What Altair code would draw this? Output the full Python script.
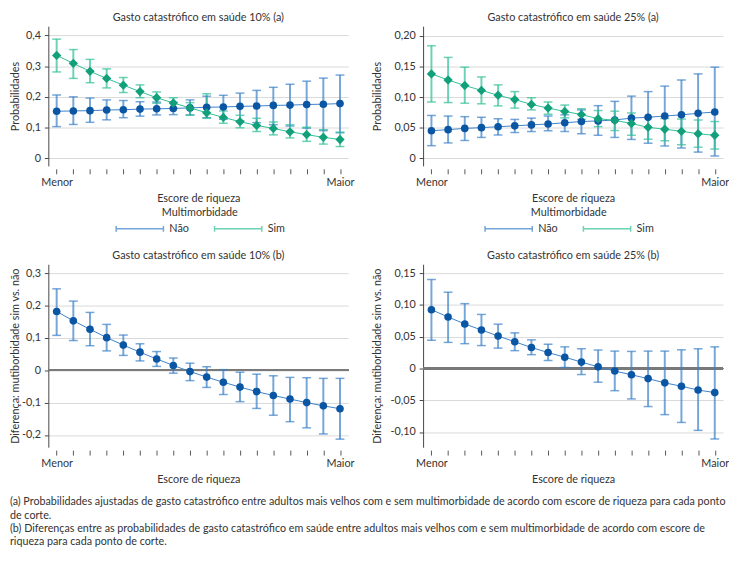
import altair as alt
import pandas as pd

idx = list(range(1, 19))

# (a) 10%
a10_nao = [0.153, 0.154, 0.155, 0.157, 0.158, 0.160, 0.161, 0.162, 0.164, 0.166, 0.167, 0.169, 0.170, 0.172, 0.173, 0.175, 0.176, 0.178]
a10_nao_lo = [0.103, 0.110, 0.117, 0.125, 0.132, 0.137, 0.141, 0.142, 0.141, 0.132, 0.127, 0.122, 0.116, 0.109, 0.105, 0.098, 0.090, 0.083]
a10_nao_hi = [0.206, 0.200, 0.196, 0.190, 0.188, 0.184, 0.183, 0.182, 0.190, 0.202, 0.205, 0.212, 0.221, 0.231, 0.241, 0.251, 0.261, 0.271]
a10_sim = [0.335, 0.309, 0.283, 0.260, 0.238, 0.217, 0.197, 0.180, 0.164, 0.148, 0.133, 0.119, 0.107, 0.097, 0.086, 0.077, 0.068, 0.061]
a10_sim_lo = [0.281, 0.260, 0.246, 0.229, 0.214, 0.197, 0.179, 0.163, 0.140, 0.130, 0.114, 0.099, 0.087, 0.076, 0.066, 0.055, 0.046, 0.038]
a10_sim_hi = [0.388, 0.354, 0.322, 0.291, 0.263, 0.239, 0.216, 0.197, 0.181, 0.210, 0.154, 0.140, 0.130, 0.118, 0.109, 0.101, 0.093, 0.085]

# (a) 25%
a25_nao = [0.045, 0.0467, 0.0488, 0.050, 0.0515, 0.053, 0.0545, 0.056, 0.058, 0.060, 0.061, 0.0625, 0.0656, 0.067, 0.069, 0.071, 0.0735, 0.0756]
a25_nao_lo = [0.0205, 0.025, 0.029, 0.034, 0.038, 0.042, 0.0436, 0.045, 0.0437, 0.040, 0.0375, 0.034, 0.0307, 0.0245, 0.020, 0.0167, 0.010, 0.0036]
a25_nao_hi = [0.070, 0.069, 0.068, 0.067, 0.0646, 0.0635, 0.0656, 0.069, 0.071, 0.079, 0.086, 0.093, 0.1016, 0.109, 0.118, 0.128, 0.138, 0.149]
a25_sim = [0.138, 0.128, 0.119, 0.111, 0.103, 0.096, 0.088, 0.082, 0.0766, 0.0714, 0.0646, 0.062, 0.0568, 0.0505, 0.0474, 0.044, 0.040, 0.0375]
a25_sim_lo = [0.092, 0.091, 0.090, 0.089, 0.0856, 0.082, 0.079, 0.072, 0.066, 0.0635, 0.0516, 0.0453, 0.0375, 0.031, 0.0286, 0.022, 0.018, 0.015]
a25_sim_hi = [0.184, 0.165, 0.149, 0.133, 0.120, 0.109, 0.099, 0.092, 0.087, 0.081, 0.078, 0.077, 0.074, 0.067, 0.065, 0.064, 0.0625, 0.060]

# (b) 10%
b10_d = [0.182, 0.153, 0.127, 0.101, 0.078, 0.056, 0.035, 0.015, -0.004, -0.021, -0.037, -0.052, -0.066, -0.078, -0.089, -0.100, -0.110, -0.119]
b10_lo = [0.108, 0.092, 0.076, 0.060, 0.046, 0.029, 0.012, -0.009, -0.032, -0.053, -0.075, -0.097, -0.118, -0.139, -0.159, -0.178, -0.197, -0.213]
b10_hi = [0.252, 0.214, 0.179, 0.142, 0.109, 0.082, 0.058, 0.038, 0.022, 0.011, 0.002, -0.006, -0.012, -0.017, -0.022, -0.023, -0.025, -0.025]

# (b) 25%
b25_d = [0.0924, 0.081, 0.070, 0.0606, 0.051, 0.042, 0.033, 0.025, 0.0177, 0.010, 0.0025, -0.004, -0.010, -0.016, -0.0227, -0.028, -0.034, -0.038]
b25_lo = [0.0444, 0.041, 0.039, 0.036, 0.032, 0.028, 0.0217, 0.0126, 0.0015, -0.0096, -0.0217, -0.035, -0.048, -0.060, -0.0727, -0.085, -0.0975, -0.111]
b25_hi = [0.140, 0.120, 0.102, 0.085, 0.0697, 0.056, 0.045, 0.038, 0.034, 0.031, 0.029, 0.0273, 0.0268, 0.0273, 0.0273, 0.0293, 0.031, 0.034]

groups = ["Não", "Sim"]
titles = ["Gasto catastrófico em saúde 10% (a)", "Gasto catastrófico em saúde 25% (a)",
          "Gasto catastrófico em saúde 10% (b)", "Gasto catastrófico em saúde 25% (b)"]
notes = [
    "(a) Probabilidades ajustadas de gasto catastrófico entre adultos mais velhos com e sem multimorbidade de acordo com escore de riqueza para cada ponto",
    "de corte.",
    "(b) Diferenças entre as probabilidades de gasto catastrófico em saúde entre adultos mais velhos com e sem multimorbidade de acordo com escore de",
    "riqueza para cada ponto de corte.",
]

FONT = "Lato"
CI = ["#3b80c8", "#2fbf95"]
PT = ["#0b56a3", "#12a07b"]
SHAPES = ["circle", "diamond"]
SIZES = [60, 90]
TOP_W, TOP_H, BOT_W, BOT_H = 305, 142, 305, 186
LEG_PATH = "M-1,-0.5L-1,0.5M-1,0L7,0M7,-0.5L7,0.5"


def lab_expr(dec):
    return ("datum.value == 0 ? '0' : replace(replace(format(datum.value, '.%df'), '.', ','), '\u2212', '-')" % dec)


xscale = alt.Scale(domain=[0.5, 18.5], nice=False, zero=False)
xaxis = alt.Axis(values=idx, labelExpr="datum.value == 1 ? 'Menor' : (datum.value == 18 ? 'Maior' : '')",
                 title="Escore de riqueza", grid=False, domain=False, tickSize=5, tickColor="#555",
                 offset=3, labelPadding=3, titlePadding=5, labelOverlap=False, labelFlush=False)


def yaxis(vals, dec, title, ext, tpad):
    return alt.Axis(values=vals, labelExpr=lab_expr(dec), title=title, minExtent=ext, maxExtent=ext,
                    titlePadding=tpad, grid=True, gridColor="#d9d9d9", domainColor="#444",
                    tickColor="#444", tickSize=4, labelPadding=4)


def top_panel(title, nao, nao_lo, nao_hi, sim, sim_lo, sim_hi, ydom, yvals, dec, ext, tpad, legx):
    df = pd.DataFrame({"x": idx * 2, "grp": [groups[0]] * 18 + [groups[1]] * 18,
                       "v": nao + sim, "lo": nao_lo + sim_lo, "hi": nao_hi + sim_hi})
    ys = alt.Scale(domain=ydom, nice=False, zero=False)
    ya = yaxis(yvals, dec, "Probabilidades", ext, tpad)
    X = alt.X("x:Q", scale=xscale, axis=xaxis)
    col_legend = alt.Legend(title="Multimorbidade", orient="none", legendX=legx, legendY=TOP_H + 42,
                            direction="horizontal", symbolType=LEG_PATH, symbolSize=144,
                            symbolStrokeWidth=1.5, labelOffset=41, columnPadding=23,
                            titleAnchor="middle", titlePadding=4, padding=0, titleFontWeight="normal",
                            titleFontSize=11, labelFontSize=11, titleFont=FONT, labelFont=FONT,
                            titleColor="#333", labelColor="#333")
    C = alt.Color("grp:N", scale=alt.Scale(domain=groups, range=CI), legend=col_legend)
    base = alt.Chart(df)
    rules = base.mark_rule(strokeWidth=2, opacity=0.7).encode(
        x=X, y=alt.Y("lo:Q", scale=ys, axis=ya), y2="hi:Q", color=C)
    cap_lo = base.mark_tick(orient="horizontal", size=9, thickness=1.5).encode(
        x=X, y=alt.Y("lo:Q", scale=ys, axis=ya), color=C)
    cap_hi = base.mark_tick(orient="horizontal", size=9, thickness=1.5).encode(
        x=X, y=alt.Y("hi:Q", scale=ys, axis=ya), color=C)
    line = base.mark_line(strokeWidth=1).encode(
        x=X, y=alt.Y("v:Q", scale=ys, axis=ya), color=C, detail="grp:N")
    layers = [rules, cap_lo, cap_hi, line]
    for g, col, shp, sz in zip(groups, PT, SHAPES, SIZES):
        layers.append(base.transform_filter(alt.datum.grp == g).mark_point(
            filled=True, opacity=1, strokeWidth=0, fill=col, shape=shp, size=sz).encode(
            x=X, y=alt.Y("v:Q", scale=ys, axis=ya)))
    return alt.layer(*layers).properties(
        width=TOP_W, height=TOP_H,
        title=alt.TitleParams(title, frame="group", anchor="middle", offset=3, fontSize=11,
                              font=FONT, fontWeight="normal", color="#333"))


def bot_panel(title, d, lo, hi, ydom, yvals, dec, ext, tpad):
    df = pd.DataFrame({"x": idx, "v": d, "lo": lo, "hi": hi})
    ys = alt.Scale(domain=ydom, nice=False, zero=False)
    ya = yaxis(yvals, dec, "Diferença: mutiborbidade sim vs. não", ext, tpad)
    X = alt.X("x:Q", scale=xscale, axis=xaxis)
    base = alt.Chart(df)
    zero = base.mark_rule(color="#7a7a7a", strokeWidth=1.5).encode(
        y=alt.Y(datum=0, scale=ys, axis=ya))
    rules = base.mark_rule(strokeWidth=2, opacity=0.7, color=CI[0]).encode(
        x=X, y=alt.Y("lo:Q", scale=ys, axis=ya), y2="hi:Q")
    cap_lo = base.mark_tick(orient="horizontal", size=9, thickness=1.5, color=CI[0]).encode(
        x=X, y=alt.Y("lo:Q", scale=ys, axis=ya))
    cap_hi = base.mark_tick(orient="horizontal", size=9, thickness=1.5, color=CI[0]).encode(
        x=X, y=alt.Y("hi:Q", scale=ys, axis=ya))
    line = base.mark_line(strokeWidth=1, color=CI[0]).encode(
        x=X, y=alt.Y("v:Q", scale=ys, axis=ya))
    pts = base.mark_point(filled=True, opacity=1, strokeWidth=0, size=60, shape="circle", fill=PT[0]).encode(
        x=X, y=alt.Y("v:Q", scale=ys, axis=ya))
    return alt.layer(zero, rules, cap_lo, cap_hi, line, pts).properties(
        width=BOT_W, height=BOT_H,
        title=alt.TitleParams(title, frame="group", anchor="middle", offset=3, fontSize=11,
                              font=FONT, fontWeight="normal", color="#333"))


p1 = top_panel(titles[0], a10_nao, a10_nao_lo, a10_nao_hi, a10_sim, a10_sim_lo, a10_sim_hi,
               [-0.025, 0.43], [0, 0.1, 0.2, 0.3, 0.4], 1, 25, 3, 68)
p2 = top_panel(titles[1], a25_nao, a25_nao_lo, a25_nao_hi, a25_sim, a25_sim_lo, a25_sim_hi,
               [-0.0126, 0.216], [0, 0.05, 0.10, 0.15, 0.20], 2, 36, 5, 62)
p3 = bot_panel(titles[2], b10_d, b10_lo, b10_hi, [-0.238, 0.328], [-0.2, -0.1, 0, 0.1, 0.2, 0.3], 1, 25, 3)
p4 = bot_panel(titles[3], b25_d, b25_lo, b25_hi, [-0.124, 0.164], [-0.10, -0.05, 0, 0.05, 0.10, 0.15], 2, 36, 5)

chart = alt.concat(p1, p2, p3, p4, columns=2, spacing={"row": 16, "column": 18}, align="each").resolve_scale(
    color="independent", x="independent", y="independent").resolve_legend(color="independent").properties(
    padding={"left": 2, "top": 0, "right": 0, "bottom": 0},
    title=alt.TitleParams(notes, orient="bottom", anchor="start", frame="bounds", font=FONT,
                          fontSize=10.9, lineHeight=13.5, offset=12, color="#333", fontWeight="normal")
).configure_view(stroke=None).configure_axis(
    labelFont=FONT, titleFont=FONT, labelFontSize=11, titleFontSize=11, labelColor="#333",
    titleColor="#333", titleFontWeight="normal")

chart.save("out.html", embed_options={"renderer": "svg", "actions": False})
